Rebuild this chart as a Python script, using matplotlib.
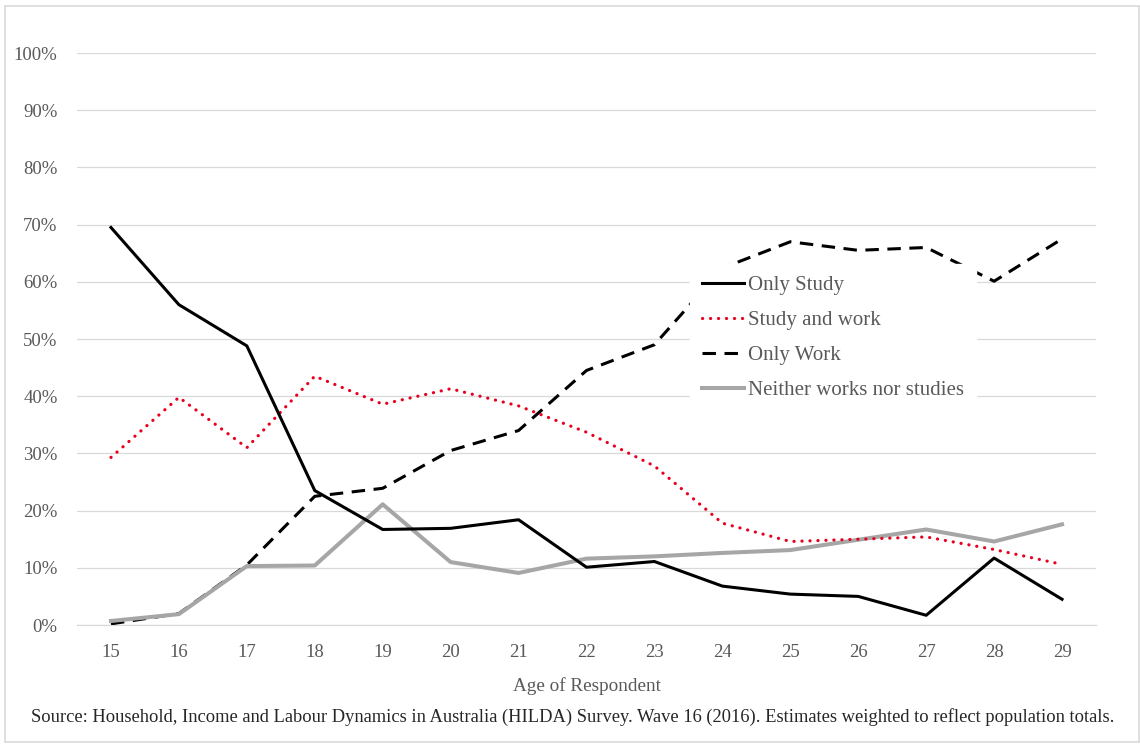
import numpy as np
import matplotlib
matplotlib.use("Agg")
import matplotlib.pyplot as plt
from matplotlib.patches import Rectangle
from matplotlib.ticker import PercentFormatter

ages = list(range(15, 30))

only_study = [69.5, 56.0, 48.8, 23.5, 16.7, 16.9, 18.4, 10.1, 11.1, 6.8, 5.4, 5.0, 1.7, 11.7, 4.5]
study_and_work = [29.3, 39.8, 31.0, 43.5, 38.6, 41.3, 38.3, 33.7, 27.8, 17.8, 14.6, 15.0, 15.4, 13.2, 10.6]
only_work = [0.2, 2.0, 10.5, 22.5, 23.9, 30.5, 34.0, 44.5, 49.0, 62.4, 67.0, 65.5, 66.0, 60.1, 67.5]
neither = [0.7, 1.9, 10.3, 10.4, 21.1, 11.0, 9.1, 11.6, 12.0, 12.6, 13.1, 14.9, 16.7, 14.6, 17.6]

labels = ["Only Study", "Study and work", "Only Work", "Neither works nor studies"]

SERIF = ["Liberation Serif", "DejaVu Serif"]
TEXT_GREY = "#595959"

plt.rcParams["font.family"] = SERIF

fig = plt.figure(figsize=(11.4, 7.47), dpi=100)
ax = fig.add_axes([77 / 1140, 122 / 747, 1019 / 1140, 572 / 747])

# outer frame like the pasted chart
fig.patches.append(Rectangle((5 / 1140, 5 / 747), 1134 / 1140, 736 / 747,
                             transform=fig.transFigure, fill=False,
                             edgecolor="#d9d9d9", linewidth=1.2))

ax.plot(ages, only_work, color="black", linewidth=2.2, dashes=(4.4, 2.8), label=labels[2], zorder=3)
ax.plot(ages, neither, color="#a6a6a6", linewidth=2.9, label=labels[3], zorder=3)
ax.plot(ages, study_and_work, color="#e8001e", linewidth=2.3, linestyle=(0, (0.05, 2.45)),
        dash_capstyle="round", label=labels[1], zorder=3)
ax.plot(ages, only_study, color="black", linewidth=2.2, label=labels[0], zorder=3)

ax.set_xlim(14.5, 29.5)
ax.set_ylim(0, 100)
ax.set_xticks(ages)
ax.set_yticks(np.arange(0, 101, 10))
ax.yaxis.set_major_formatter(PercentFormatter(decimals=0))
ax.grid(axis="y", color="#d9d9d9", linewidth=0.9)
ax.set_axisbelow(True)
for s in ["top", "right", "left"]:
    ax.spines[s].set_visible(False)
ax.spines["bottom"].set_color("#d9d9d9")
ax.spines["bottom"].set_linewidth(0.9)
ax.tick_params(length=0, labelsize=13.5, labelcolor=TEXT_GREY)
ax.tick_params(axis="y", pad=14)
ax.tick_params(axis="x", pad=14)

ax.set_xlabel("Age of Respondent", fontsize=13.8, color=TEXT_GREY, labelpad=11)

handles, labs = ax.get_legend_handles_labels()
order = [labels.index(l) for l in labs]
pairs = sorted(zip(order, handles, labs))
leg = ax.legend([p[1] for p in pairs], [p[2] for p in pairs],
                loc="upper left", bbox_to_anchor=(0.602, 0.631),
                frameon=True, fancybox=False, framealpha=1.0, edgecolor="white",
                fontsize=15, handlelength=2.0, handletextpad=0.22,
                labelspacing=0.74, borderaxespad=0, borderpad=0.55)
leg.set_zorder(5)
for t in leg.get_texts():
    t.set_color(TEXT_GREY)

fig.text(0.502, 0.04, "Source: Household, Income and Labour Dynamics in Australia (HILDA) Survey. "
         "Wave 16 (2016). Estimates weighted to reflect population totals.",
         ha="center", va="center", fontsize=13.3, color="#262626")

fig.savefig("out.png", dpi=100)
